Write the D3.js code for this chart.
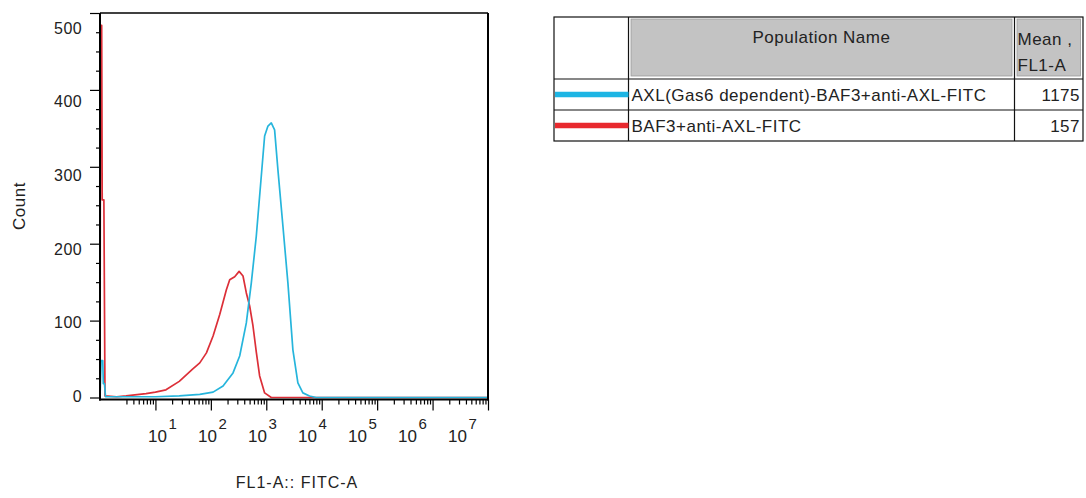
<!DOCTYPE html>
<html>
<head>
<meta charset="utf-8">
<script src="https://cdn.jsdelivr.net/npm/d3@7"></script>
<style>
  body { margin: 0; background: #fff; }
  svg { display: block; font-family: "Liberation Sans", Arial, sans-serif; }
</style>
</head>
<body>
<div id="chart"></div>
<script>
// histogram outlines, FL1-A given in decades (log10), counts
const redDecades  = [0, 0.01, 0.03, 0.04, 0.07, 0.09, 0.3, 0.47, 0.83, 1.0, 1.19, 1.43, 1.67, 1.80, 1.92, 2.04, 2.16, 2.28, 2.34, 2.43, 2.51, 2.58, 2.64, 2.70, 2.76, 2.82, 2.88, 2.97, 3.09, 7];
const redCounts   = [0, 484, 484, 257, 257, 2, 1, 2, 5, 7, 10, 21, 37, 45, 58, 80, 108, 140, 153, 157, 164, 158, 136, 119, 93, 59, 28, 6, 0, 0];
const cyanDecades = [0, 0.02, 0.05, 0.06, 0.08, 0.1, 0.5, 1.0, 1.43, 1.80, 2.04, 2.22, 2.40, 2.52, 2.64, 2.73, 2.82, 2.91, 2.97, 3.03, 3.09, 3.15, 3.21, 3.30, 3.39, 3.48, 3.57, 3.66, 3.78, 3.9, 7];
const cyanCounts  = [0, 48, 48, 18, 18, 1, 1, 1, 2, 4, 7, 15, 32, 54, 97, 149, 210, 288, 340, 353, 357, 348, 296, 223, 149, 62, 19, 6, 2, 0, 0];

const yTickValues = [0, 100, 200, 300, 400, 500];
const xDecadeLabels = [1, 2, 3, 4, 5, 6, 7];

const populationNames = ["AXL(Gas6 dependent)-BAF3+anti-AXL-FITC", "BAF3+anti-AXL-FITC"];
const populationMeans = [1175, 157];
const populationColors = ["#1db5e4", "#e8292e"];
const curveColors = ["#26b5dc", "#dc2f38"];

const W = 1086, H = 498;
const plot = { left: 100, top: 13, right: 488, bottom: 397.5 };
const axisY = 399.5;

const svg = d3.select("#chart").append("svg")
    .attr("width", W)
    .attr("height", H);

const x = d3.scaleLog().domain([1, 1e7]).range([plot.left, plot.right]);
const y = d3.scaleLinear().domain([0, 500]).range([plot.bottom, plot.top]);
// the tick labels sit on a slightly different grid than the ticks in the picture
const xLabel = d3.scaleLog().domain([1, 1e7]).range([107.5, 457.5]);
const yLabel = d3.scaleLinear().domain([0, 500]).range([396, 28]);

// y ticks
const yMinor = d3.range(0, 501, 25).filter(v => v % 100 !== 0);
svg.append("g")
    .attr("transform", `translate(${plot.left},0)`)
    .call(d3.axisLeft(y).tickValues(yTickValues).tickSize(10).tickSizeOuter(0).tickFormat(""))
    .call(g => g.select(".domain").remove())
    .selectAll("line").attr("stroke", "#000").attr("stroke-width", 1.2);
svg.append("g")
    .attr("transform", `translate(${plot.left},0)`)
    .call(d3.axisLeft(y).tickValues(yMinor).tickSize(4).tickFormat(""))
    .call(g => g.select(".domain").remove())
    .selectAll("line").attr("stroke", "#000").attr("stroke-width", 1.2);

svg.append("g").selectAll("text")
    .data(yTickValues)
    .enter()
    .append("text")
    .attr("x", 82)
    .attr("y", d => yLabel(d))
    .attr("dy", "0.36em")
    .attr("text-anchor", "end")
    .style("font-size", "16px")
    .style("letter-spacing", "0.4px")
    .style("fill", "#222")
    .text(d => d);

// x ticks
const xMajor = xDecadeLabels.map(p => Math.pow(10, p));
const xMinor = [];
d3.range(0, 7).forEach(p => {
    d3.range(2, 10).forEach(m => {
        if (!(p === 0 && m === 2)) xMinor.push(m * Math.pow(10, p));
    });
});
svg.append("g")
    .attr("transform", `translate(0,${axisY})`)
    .call(d3.axisBottom(x).tickValues(xMajor).tickSize(11).tickSizeOuter(0).tickFormat(""))
    .call(g => g.select(".domain").remove())
    .selectAll("line").attr("stroke", "#000").attr("stroke-width", 1.2);
svg.append("g")
    .attr("transform", `translate(0,${axisY})`)
    .call(d3.axisBottom(x).tickValues(xMinor).tickSize(5).tickFormat(""))
    .call(g => g.select(".domain").remove())
    .selectAll("line").attr("stroke", "#000").attr("stroke-width", 1.2);

const xl = svg.append("g").selectAll("g")
    .data(xDecadeLabels)
    .enter()
    .append("g")
    .attr("transform", d => `translate(${xLabel(Math.pow(10, d))},0)`);
xl.append("text")
    .attr("y", 442)
    .attr("text-anchor", "middle")
    .style("font-size", "17px")
    .style("fill", "#222")
    .text("10");
xl.append("text")
    .attr("x", 11)
    .attr("y", 429)
    .style("font-size", "15px")
    .style("fill", "#222")
    .text(d => d);

// histogram outlines
const line = d3.line()
    .x(d => x(Math.pow(10, d[0])))
    .y(d => y(d[1]));
const series = [
    { pts: d3.zip(redDecades, redCounts), color: curveColors[1] },
    { pts: d3.zip(cyanDecades, cyanCounts), color: curveColors[0] }
];
svg.append("g").selectAll("path")
    .data(series)
    .enter()
    .append("path")
    .attr("d", d => line(d.pts))
    .attr("fill", "none")
    .attr("stroke", d => d.color)
    .attr("stroke-width", 1.7)
    .attr("stroke-linejoin", "round");

// frame
svg.append("line").attr("x1", plot.left).attr("x2", plot.right).attr("y1", plot.top).attr("y2", plot.top)
    .attr("stroke", "#000").attr("stroke-width", 1.5);
svg.append("line").attr("x1", plot.right).attr("x2", plot.right).attr("y1", plot.top).attr("y2", axisY + 1)
    .attr("stroke", "#000").attr("stroke-width", 2);
svg.append("line").attr("x1", plot.left).attr("x2", plot.left).attr("y1", plot.top).attr("y2", axisY + 1)
    .attr("stroke", "#000").attr("stroke-width", 2);
svg.append("line").attr("x1", plot.left - 1).attr("x2", plot.right + 1).attr("y1", axisY).attr("y2", axisY)
    .attr("stroke", "#000").attr("stroke-width", 2);

// axis titles
svg.append("text")
    .attr("transform", "translate(25,206) rotate(-90)")
    .attr("text-anchor", "middle")
    .style("font-size", "17px")
    .style("letter-spacing", "0.5px")
    .style("fill", "#222")
    .text("Count");
svg.append("text")
    .attr("x", 297)
    .attr("y", 488)
    .attr("text-anchor", "middle")
    .style("font-size", "16px")
    .style("letter-spacing", "1px")
    .style("fill", "#222")
    .text("FL1-A:: FITC-A");

// population table
const tbl = { left: 554, right: 1083, top: 17, headBottom: 79, rowH: 31, col1: 628.5, col2: 1014.5 };
const tg = svg.append("g");
const rowY = i => tbl.headBottom + i * tbl.rowH;
const tblBottom = rowY(populationNames.length);

tg.append("rect").attr("x", tbl.col1 + 2.5).attr("y", tbl.top + 2).attr("width", tbl.col2 - tbl.col1 - 5)
    .attr("height", tbl.headBottom - tbl.top - 5).attr("fill", "#c3c3c3").attr("stroke", "#9a9a9a").attr("stroke-width", 0.8);
tg.append("rect").attr("x", tbl.col2 + 2.5).attr("y", tbl.top + 2).attr("width", tbl.right - tbl.col2 - 5)
    .attr("height", tbl.headBottom - tbl.top - 5).attr("fill", "#c3c3c3").attr("stroke", "#9a9a9a").attr("stroke-width", 0.8);

tg.append("rect").attr("x", tbl.left).attr("y", tbl.top).attr("width", tbl.right - tbl.left)
    .attr("height", tblBottom - tbl.top).attr("fill", "none").attr("stroke", "#111").attr("stroke-width", 1.2);
[tbl.col1, tbl.col2].forEach(cx => tg.append("line").attr("x1", cx).attr("x2", cx)
    .attr("y1", tbl.top).attr("y2", tblBottom).attr("stroke", "#111").attr("stroke-width", 1.2));
populationNames.forEach((n, i) => tg.append("line").attr("x1", tbl.left).attr("x2", tbl.right)
    .attr("y1", rowY(i)).attr("y2", rowY(i)).attr("stroke", "#111").attr("stroke-width", 1.2));

const headStyle = s => s.style("font-size", "17px").style("letter-spacing", "0.5px").style("fill", "#222");
tg.append("text").attr("x", (tbl.col1 + tbl.col2) / 2).attr("y", 43).attr("text-anchor", "middle")
    .call(headStyle).text("Population Name");
tg.append("text").attr("x", tbl.col2 + 3).attr("y", 45).call(headStyle).text("Mean ,");
tg.append("text").attr("x", tbl.col2 + 3).attr("y", 71).call(headStyle).text("FL1-A");

const rows = tg.selectAll(".row")
    .data(populationNames.map((n, i) => ({ name: n, mean: populationMeans[i], color: populationColors[i], i })))
    .enter()
    .append("g")
    .attr("class", "row");
rows.append("line")
    .attr("x1", tbl.left + 1).attr("x2", tbl.col1)
    .attr("y1", d => rowY(d.i) + tbl.rowH / 2).attr("y2", d => rowY(d.i) + tbl.rowH / 2)
    .attr("stroke", d => d.color).attr("stroke-width", 5.5);
rows.append("text")
    .attr("x", tbl.col1 + 3)
    .attr("y", d => rowY(d.i) + 22)
    .call(headStyle)
    .text(d => d.name);
rows.append("text")
    .attr("x", tbl.right - 3)
    .attr("y", d => rowY(d.i) + 22)
    .attr("text-anchor", "end")
    .call(headStyle)
    .text(d => d.mean);
</script>
</body>
</html>
